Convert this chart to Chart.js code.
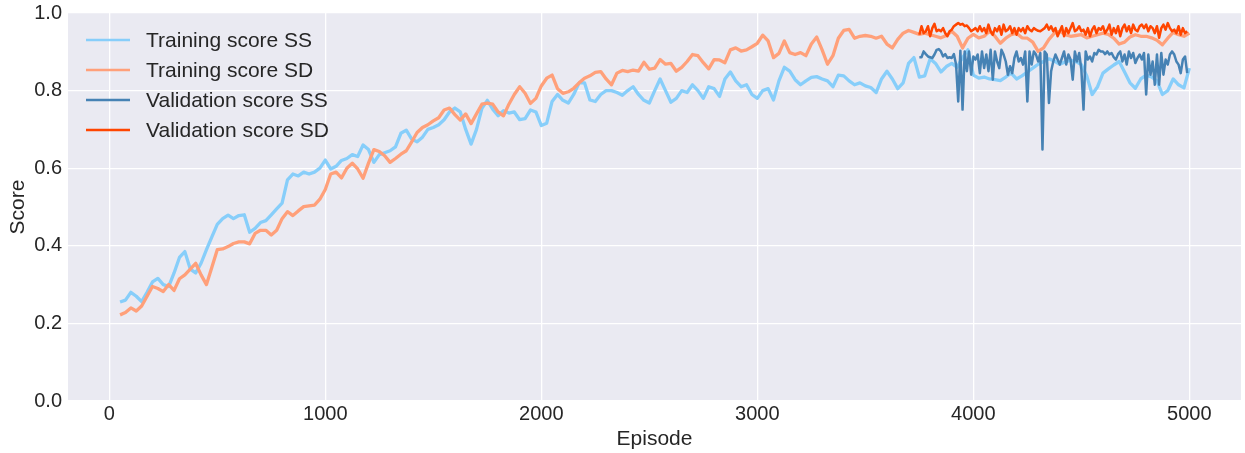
<!DOCTYPE html>
<html>
<head>
<meta charset="utf-8">
<script src="https://cdn.jsdelivr.net/npm/chart.js@4/dist/chart.umd.min.js"></script>
<style>
  html, body { margin: 0; padding: 0; background: #ffffff; }
  canvas { display: block; }
</style>
</head>
<body>
<canvas id="scoreChart" width="1245" height="453"></canvas>
<script>
// Episodes at which the running training score was logged
const trainEpisodes = [
  50, 75, 100, 125, 150, 175, 200, 225, 250, 275, 300, 325, 350, 375, 400, 425, 450, 475, 500, 525,
  550, 575, 600, 625, 650, 675, 700, 725, 750, 775, 800, 825, 850, 875, 900, 925, 950, 975, 1000, 1025,
  1050, 1075, 1100, 1125, 1150, 1175, 1200, 1225, 1250, 1275, 1300, 1325, 1350, 1375, 1400, 1425, 1450, 1475, 1500, 1525,
  1550, 1575, 1600, 1625, 1650, 1675, 1700, 1725, 1750, 1775, 1800, 1825, 1850, 1875, 1900, 1925, 1950, 1975, 2000, 2025,
  2050, 2075, 2100, 2125, 2150, 2175, 2200, 2225, 2250, 2275, 2300, 2325, 2350, 2375, 2400, 2425, 2450, 2475, 2500, 2525,
  2550, 2575, 2600, 2625, 2650, 2675, 2700, 2725, 2750, 2775, 2800, 2825, 2850, 2875, 2900, 2925, 2950, 2975, 3000, 3025,
  3050, 3075, 3100, 3125, 3150, 3175, 3200, 3225, 3250, 3275, 3300, 3325, 3350, 3375, 3400, 3425, 3450, 3475, 3500, 3525,
  3550, 3575, 3600, 3625, 3650, 3675, 3700, 3725, 3750, 3775, 3800, 3825, 3850, 3875, 3900, 3925, 3950, 3975, 4000, 4025,
  4050, 4075, 4100, 4125, 4150, 4175, 4200, 4225, 4250, 4275, 4300, 4325, 4350, 4375, 4400, 4425, 4450, 4475, 4500, 4525,
  4550, 4575, 4600, 4625, 4650, 4675, 4700, 4725, 4750, 4775, 4800, 4825, 4850, 4875, 4900, 4925, 4950, 4975, 5000
];

const trainingSS = [
  0.255, 0.260, 0.280, 0.270, 0.256, 0.280, 0.307, 0.316, 0.300, 0.295, 0.330, 0.370, 0.385, 0.340, 0.330, 0.355, 0.390, 0.423, 0.455, 0.470,
  0.479, 0.470, 0.478, 0.480, 0.435, 0.445, 0.460, 0.465, 0.480, 0.495, 0.510, 0.570, 0.585, 0.580, 0.590, 0.585, 0.590, 0.600, 0.621, 0.598,
  0.605, 0.620, 0.625, 0.635, 0.630, 0.660, 0.648, 0.615, 0.635, 0.640, 0.645, 0.655, 0.690, 0.698, 0.675, 0.668, 0.680, 0.700, 0.705, 0.712,
  0.725, 0.745, 0.755, 0.745, 0.700, 0.662, 0.700, 0.754, 0.775, 0.752, 0.735, 0.748, 0.742, 0.745, 0.725, 0.728, 0.750, 0.745, 0.710, 0.716,
  0.772, 0.790, 0.775, 0.768, 0.790, 0.820, 0.820, 0.776, 0.772, 0.790, 0.800, 0.800, 0.795, 0.788, 0.800, 0.810, 0.790, 0.775, 0.768, 0.800,
  0.830, 0.800, 0.770, 0.780, 0.800, 0.795, 0.815, 0.800, 0.780, 0.810, 0.805, 0.785, 0.830, 0.848, 0.825, 0.810, 0.815, 0.790, 0.780, 0.800,
  0.805, 0.776, 0.825, 0.860, 0.850, 0.828, 0.815, 0.825, 0.834, 0.836, 0.830, 0.825, 0.810, 0.840, 0.838, 0.825, 0.815, 0.820, 0.812, 0.808,
  0.795, 0.830, 0.850, 0.830, 0.805, 0.820, 0.870, 0.885, 0.835, 0.838, 0.882, 0.870, 0.848, 0.862, 0.870, 0.860, 0.885, 0.905, 0.840, 0.832,
  0.835, 0.830, 0.828, 0.826, 0.835, 0.845, 0.830, 0.838, 0.848, 0.858, 0.868, 0.875, 0.882, 0.876, 0.868, 0.874, 0.878, 0.875, 0.867, 0.838,
  0.790, 0.810, 0.845, 0.856, 0.866, 0.875, 0.848, 0.820, 0.806, 0.830, 0.840, 0.835, 0.825, 0.790, 0.800, 0.830, 0.815, 0.807, 0.858
];

const trainingSD = [
  0.222, 0.228, 0.240, 0.232, 0.245, 0.270, 0.295, 0.290, 0.282, 0.300, 0.285, 0.315, 0.325, 0.340, 0.355, 0.325, 0.300, 0.345, 0.390, 0.392,
  0.398, 0.406, 0.410, 0.410, 0.405, 0.432, 0.440, 0.440, 0.428, 0.440, 0.470, 0.488, 0.478, 0.490, 0.501, 0.503, 0.505, 0.520, 0.545, 0.585,
  0.590, 0.575, 0.600, 0.613, 0.598, 0.574, 0.613, 0.648, 0.643, 0.632, 0.615, 0.625, 0.636, 0.645, 0.668, 0.692, 0.705, 0.712, 0.722, 0.730,
  0.750, 0.755, 0.738, 0.724, 0.740, 0.715, 0.740, 0.765, 0.768, 0.765, 0.745, 0.735, 0.765, 0.790, 0.810, 0.793, 0.767, 0.780, 0.812, 0.832,
  0.840, 0.805, 0.793, 0.797, 0.806, 0.820, 0.832, 0.838, 0.847, 0.849, 0.830, 0.815, 0.845, 0.852, 0.849, 0.853, 0.850, 0.873, 0.855, 0.858,
  0.880, 0.868, 0.870, 0.850, 0.860, 0.875, 0.893, 0.890, 0.872, 0.856, 0.880, 0.879, 0.872, 0.905, 0.910, 0.902, 0.905, 0.913, 0.922, 0.943,
  0.928, 0.885, 0.896, 0.928, 0.898, 0.893, 0.898, 0.890, 0.920, 0.938, 0.905, 0.868, 0.890, 0.935, 0.955, 0.958, 0.935, 0.940, 0.942, 0.940,
  0.935, 0.940, 0.920, 0.910, 0.932, 0.948, 0.955, 0.950, 0.945, 0.948, 0.944, 0.940, 0.936, 0.942, 0.953, 0.940, 0.910, 0.935, 0.945, 0.936,
  0.940, 0.953, 0.940, 0.922, 0.935, 0.944, 0.948, 0.936, 0.935, 0.925, 0.901, 0.910, 0.932, 0.948, 0.953, 0.944, 0.940, 0.942, 0.944, 0.936,
  0.940, 0.944, 0.948, 0.945, 0.935, 0.920, 0.925, 0.938, 0.944, 0.940, 0.940, 0.936, 0.930, 0.918, 0.935, 0.950, 0.944, 0.940, 0.948
];

// Episodes at which the greedy policy was validated
const validationEpisodes = [
  3750, 3760, 3770, 3780, 3790, 3800, 3810, 3820, 3830, 3840, 3850, 3860, 3870, 3880, 3890, 3900, 3910, 3920, 3930, 3940,
  3950, 3960, 3970, 3980, 3990, 4000, 4010, 4020, 4030, 4040, 4050, 4060, 4070, 4080, 4090, 4100, 4110, 4120, 4130, 4140,
  4150, 4160, 4170, 4180, 4190, 4200, 4210, 4220, 4230, 4240, 4250, 4260, 4270, 4280, 4290, 4300, 4310, 4320, 4330, 4340,
  4350, 4360, 4370, 4380, 4390, 4400, 4410, 4420, 4430, 4440, 4450, 4460, 4470, 4480, 4490, 4500, 4510, 4520, 4530, 4540,
  4550, 4560, 4570, 4580, 4590, 4600, 4610, 4620, 4630, 4640, 4650, 4660, 4670, 4680, 4690, 4700, 4710, 4720, 4730, 4740,
  4750, 4760, 4770, 4780, 4790, 4800, 4810, 4820, 4830, 4840, 4850, 4860, 4870, 4880, 4890, 4900, 4910, 4920, 4930, 4940,
  4950, 4960, 4970, 4980, 4990
];

const validationSS = [
  0.886, 0.886, 0.901, 0.894, 0.888, 0.886, 0.884, 0.893, 0.905, 0.907, 0.901, 0.888, 0.894, 0.884, 0.886, 0.884, 0.894, 0.867, 0.772, 0.903,
  0.751, 0.901, 0.850, 0.901, 0.841, 0.888, 0.880, 0.893, 0.845, 0.901, 0.858, 0.893, 0.850, 0.905, 0.828, 0.901, 0.875, 0.858, 0.905, 0.893,
  0.875, 0.841, 0.863, 0.845, 0.884, 0.901, 0.875, 0.884, 0.867, 0.901, 0.772, 0.901, 0.867, 0.901, 0.893, 0.875, 0.897, 0.648, 0.901, 0.893,
  0.768, 0.850, 0.875, 0.893, 0.880, 0.867, 0.884, 0.901, 0.867, 0.893, 0.880, 0.828, 0.901, 0.875, 0.897, 0.854, 0.751, 0.901, 0.880, 0.888,
  0.875, 0.897, 0.893, 0.905, 0.901, 0.901, 0.894, 0.901, 0.893, 0.897, 0.886, 0.880, 0.894, 0.901, 0.875, 0.893, 0.867, 0.901, 0.884, 0.897,
  0.871, 0.884, 0.893, 0.880, 0.897, 0.790, 0.893, 0.841, 0.875, 0.815, 0.893, 0.815, 0.897, 0.841, 0.880, 0.867, 0.893, 0.901, 0.893, 0.875,
  0.867, 0.845, 0.880, 0.888, 0.845
];

const validationSD = [
  0.944, 0.966, 0.948, 0.953, 0.966, 0.940, 0.961, 0.972, 0.953, 0.957, 0.953, 0.961, 0.948, 0.940, 0.953, 0.957, 0.966, 0.970, 0.974, 0.970,
  0.972, 0.966, 0.968, 0.961, 0.953, 0.957, 0.961, 0.953, 0.966, 0.953, 0.961, 0.948, 0.970, 0.953, 0.944, 0.961, 0.953, 0.966, 0.944, 0.970,
  0.953, 0.957, 0.966, 0.948, 0.961, 0.944, 0.961, 0.953, 0.961, 0.948, 0.966, 0.957, 0.953, 0.961, 0.957, 0.954, 0.953, 0.957, 0.961, 0.970,
  0.957, 0.966, 0.953, 0.961, 0.940, 0.953, 0.966, 0.940, 0.961, 0.948, 0.961, 0.974, 0.953, 0.957, 0.966, 0.953, 0.957, 0.944, 0.961, 0.940,
  0.957, 0.966, 0.948, 0.961, 0.957, 0.966, 0.948, 0.957, 0.970, 0.944, 0.961, 0.948, 0.966, 0.940, 0.961, 0.970, 0.953, 0.966, 0.948, 0.970,
  0.957, 0.953, 0.966, 0.970, 0.961, 0.970, 0.953, 0.966, 0.961, 0.948, 0.966, 0.936, 0.961, 0.970, 0.957, 0.974, 0.961, 0.953, 0.957, 0.948,
  0.966, 0.944, 0.961, 0.948, 0.953
];

const seriesLabels = ['Training score SS', 'Training score SD', 'Validation score SS', 'Validation score SD'];
const seriesColors = ['#87CEFA', '#FFA07A', '#4682B4', '#FF4500'];
const xTickValues = [0, 1000, 2000, 3000, 4000, 5000];
const yTickValues = [0.0, 0.2, 0.4, 0.6, 0.8, 1.0];

const FONT = "'Liberation Sans', Arial, Helvetica, sans-serif";
const TEXT = '#262626';

function pairs(xs, ys) {
  return xs.map((x, i) => ({ x: x, y: ys[i] }));
}

// Grey panel behind the plotting area
const panelBackground = {
  id: 'panelBackground',
  beforeDraw(chart) {
    const { ctx, chartArea: a } = chart;
    ctx.save();
    ctx.fillStyle = '#EAEAF2';
    ctx.fillRect(a.left, a.top, a.right - a.left, a.bottom - a.top);
    ctx.restore();
  }
};

// Frameless legend in the upper-left corner of the panel
const cornerLegend = {
  id: 'cornerLegend',
  afterDatasetsDraw(chart) {
    const { ctx, chartArea: a } = chart;
    ctx.save();
    ctx.font = '21px ' + FONT;
    ctx.textBaseline = 'middle';
    ctx.textAlign = 'left';
    chart.data.datasets.forEach((ds, i) => {
      const y = a.top + 27 + i * 30;
      ctx.strokeStyle = ds.borderColor;
      ctx.lineWidth = 2.6;
      ctx.beginPath();
      ctx.moveTo(a.left + 18, y);
      ctx.lineTo(a.left + 62, y);
      ctx.stroke();
      ctx.fillStyle = TEXT;
      ctx.fillText(ds.label, a.left + 78, y + 1);
    });
    ctx.restore();
  }
};

const ctx = document.getElementById('scoreChart').getContext('2d');
new Chart(ctx, {
  type: 'line',
  data: {
    datasets: [
      { label: seriesLabels[0], data: pairs(trainEpisodes, trainingSS), borderColor: seriesColors[0], borderWidth: 3.3, order: 3 },
      { label: seriesLabels[1], data: pairs(trainEpisodes, trainingSD), borderColor: seriesColors[1], borderWidth: 3.3, order: 2 },
      { label: seriesLabels[2], data: pairs(validationEpisodes, validationSS), borderColor: seriesColors[2], borderWidth: 2.5, order: 1 },
      { label: seriesLabels[3], data: pairs(validationEpisodes, validationSD), borderColor: seriesColors[3], borderWidth: 2.5, order: 0 }
    ]
  },
  options: {
    responsive: false,
    devicePixelRatio: 1,
    animation: false,
    elements: {
      point: { radius: 0, hoverRadius: 0 },
      line: { tension: 0, fill: false, borderJoinStyle: 'round', borderCapStyle: 'butt' }
    },
    layout: { padding: { top: 13, right: 4, left: 0, bottom: 0 } },
    plugins: {
      legend: { display: false },
      tooltip: { enabled: false }
    },
    scales: {
      x: {
        type: 'linear',
        min: -191,
        max: 5239,
        afterBuildTicks(scale) { scale.ticks = xTickValues.map(v => ({ value: v })); },
        afterFit(scale) {
          scale.height = 52;
          scale.paddingLeft = 0;
          scale.paddingRight = 0;
        },
        border: { display: false },
        grid: { color: '#FFFFFF', lineWidth: 1.3, drawTicks: false },
        ticks: {
          autoSkip: false, maxRotation: 0, padding: 1,
          color: TEXT, font: { family: FONT, size: 20 },
          callback: v => String(v)
        },
        title: {
          display: true, text: 'Episode', color: TEXT,
          font: { family: FONT, size: 21 }, padding: { top: 0, bottom: 1 }
        }
      },
      y: {
        type: 'linear',
        min: 0,
        max: 1,
        afterBuildTicks(scale) { scale.ticks = yTickValues.map(v => ({ value: v })); },
        afterFit(scale) {
          scale.width = 68;
          scale.paddingTop = 0;
          scale.paddingBottom = 0;
        },
        border: { display: false },
        grid: { color: '#FFFFFF', lineWidth: 1.3, drawTicks: false },
        ticks: {
          autoSkip: false, padding: 6,
          color: TEXT, font: { family: FONT, size: 20 },
          callback: v => Number(v).toFixed(1)
        },
        title: {
          display: true, text: 'Score', color: TEXT,
          font: { family: FONT, size: 21 }, padding: { top: 6, bottom: 0 }
        }
      }
    }
  },
  plugins: [panelBackground, cornerLegend]
});
</script>
</body>
</html>
